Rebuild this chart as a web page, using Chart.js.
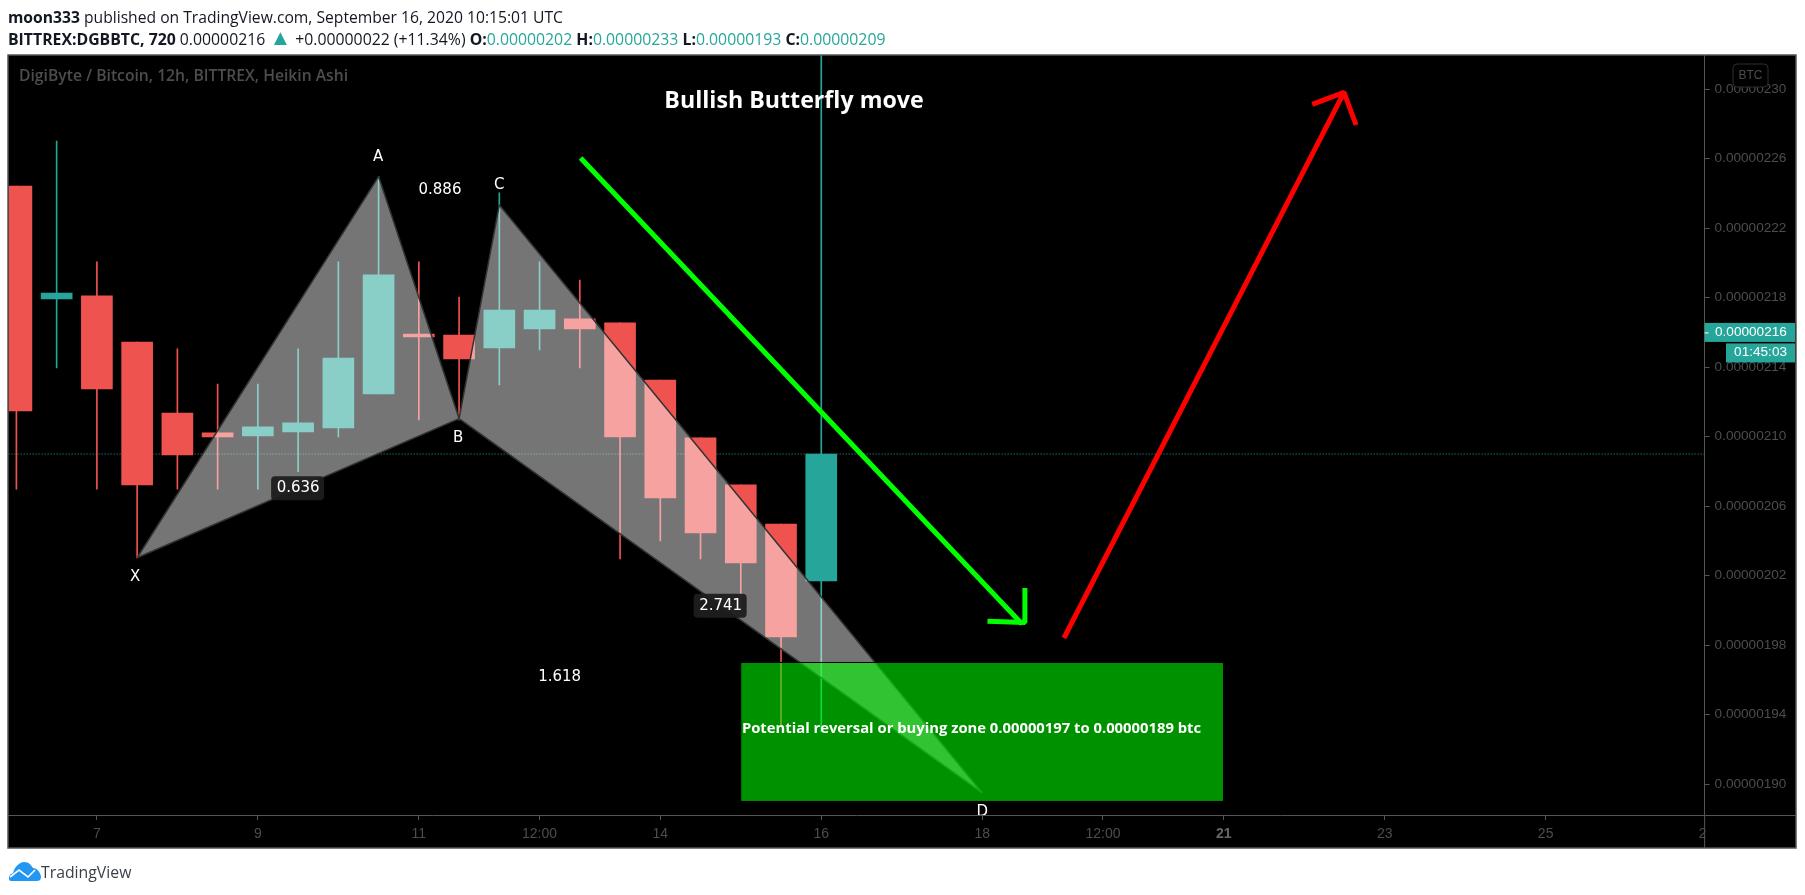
<!DOCTYPE html>
<html>
<head>
<meta charset="utf-8">
<script src="https://cdn.jsdelivr.net/npm/chart.js@4/dist/chart.umd.min.js"></script>
<style>
    html, body { margin: 0; padding: 0; background: #fff; }
    canvas { position: absolute; left: 0; top: 0; }
    .head { position: absolute; left: 8px; white-space: nowrap; color: #131722; font: 15.8px "Open Sans", sans-serif; }
    .head b { font-weight: 700; }
    .head i { font-style: normal; color: #26a69a; }
    .head i.up { font-size: 22px; line-height: 16px; }
    #logo { position: absolute; left: 8px; top: 862px; }
    #brand { position: absolute; left: 41px; top: 861px; color: #3b3f4a; font: 15.8px "Open Sans", sans-serif; }
</style>
</head>
<body>
<canvas id="chart" width="1805" height="895"></canvas>
<div class="head" style="top:6px;font-size:15.67px"><b>moon333</b> published on TradingView.com, September 16, 2020 10:15:01 UTC</div>
<div class="head" style="top:28px"><b>BITTREX:DGBBTC, 720</b> 0.00000216 <i class="up">▲</i> +0.00000022 (+11.34%) <b>O:</b><i>0.00000202</i> <b>H:</b><i>0.00000233</i> <b>L:</b><i>0.00000193</i> <b>C:</b><i>0.00000209</i></div>
<svg id="logo" width="33" height="20" viewBox="0 0 33 20">
    <path d="M3 19 C0 19 0 12 5 11 C7 4 12 0 16 0 C21 0 23 3 25 6 C29 6 33 11 33 15 C33 18 31 19 29 19 Z" fill="#2196f3"/>
    <path d="M2 15 L11 8 L20 15 L27 8" fill="none" stroke="#fff" stroke-width="1.6"/>
</svg>
<div id="brand">TradingView</div>

<script>
// prices are in satoshi (1e-8 BTC), x is the 12h bar number
const candleOpen = [224.43, 217.93, 218.1, 215.45, 211.36, 210.22, 210.04, 210.27, 210.5, 212.46, 215.91, 215.85, 215.11, 216.2, 216.78, 216.55, 213.26, 209.93, 207.22, 204.97, 201.69];
const candleClose = [211.48, 218.27, 212.75, 207.22, 208.95, 209.98, 210.56, 210.79, 214.53, 219.31, 215.74, 214.47, 217.29, 217.29, 216.2, 209.98, 206.47, 204.46, 202.73, 198.47, 209];
const candleHigh = [224.43, 227.02, 220.06, 215.45, 215.05, 213.03, 213.03, 215.05, 220.06, 224.95, 220.06, 218.04, 224.03, 220.06, 219.02, 216.55, 213.26, 209.93, 207.22, 204.97, 233];
const candleLow = [206.98, 213.96, 206.98, 203.02, 206.98, 206.98, 206.98, 207.98, 209.98, 212.46, 210.96, 210.96, 212.98, 214.99, 213.96, 202.96, 204, 202.96, 200.14, 193.41, 193];

const priceTicks = [230, 226, 222, 218, 214, 210, 206, 202, 198, 194, 190];
const timeTicks = [2, 6, 10, 13, 16, 20, 24, 27, 30, 34, 38, 42];
const timeLabels = ['7', '9', '11', '12:00', '14', '16', '18', '12:00', '21', '23', '25', '27'];

const lastClose = 209;
const lastPrice = 216;
const countdown = '01:45:03';

// harmonic pattern points
const pointX = { x: 3, y: 203.03 };
const pointA = { x: 9, y: 224.97 };
const pointB = { x: 11, y: 211.04 };
const pointC = { x: 12, y: 223.34 };
const pointD = { x: 24, y: 189.49 };

const zoneX = [18, 30];
const zoneY = [197, 189];

const greenShaft = [{ x: 14.02, y: 226.04 }, { x: 24.99, y: 199.22 }];
const greenHead = [{ x: 25.06, y: 201.29 }, { x: 25.06, y: 199.3 }, { x: 24.13, y: 199.37 }];
const redShaft = [{ x: 26.03, y: 198.41 }, { x: 32.99, y: 229.82 }];
const redHead = [{ x: 32.2, y: 229.13 }, { x: 32.99, y: 229.82 }, { x: 33.29, y: 227.94 }];

const RED = '#ef5350';
const TEAL = '#26a69a';
const AXIS = '#555555';
const DIM = '#4d4d4d';
const barNumbers = candleOpen.map((v, i) => i);
const barColors = candleOpen.map((v, i) => candleClose[i] > v ? TEAL : RED);

function lineSet(data, color, width, order) {
    return {
        type: 'line',
        data: data,
        borderColor: color,
        borderWidth: width,
        borderJoinStyle: 'bevel',
        pointRadius: 0,
        tension: 0,
        order: order
    };
}

function midpoint(p, q) {
    return { x: (p.x + q.x) / 2, y: (p.y + q.y) / 2 };
}

function text(c, str, x, y, font, color, align) {
    c.font = font;
    c.fillStyle = color;
    c.textAlign = align || 'center';
    c.textBaseline = 'middle';
    c.fillText(str, x, y);
}

function roundBox(c, x, y, w, h, r, fill, stroke) {
    c.beginPath();
    c.roundRect(x, y, w, h, r);
    c.fillStyle = fill;
    c.fill();
    if (stroke) {
        c.strokeStyle = stroke;
        c.stroke();
    }
}

const framePlugin = {
    id: 'frame',
    beforeDraw(chart) {
        const c = chart.ctx;
        c.fillStyle = '#000';
        c.fillRect(8, 55, 1788, 793);
    },
    afterDatasetsDraw(chart) {
        const c = chart.ctx;
        const sx = chart.scales.x;
        const sy = chart.scales.y;
        const area = chart.chartArea;
        const at = p => [sx.getPixelForValue(p.x), sy.getPixelForValue(p.y)];
        const sans = '"Open Sans", sans-serif';
        const note = '15px "DejaVu Sans", sans-serif';

        text(c, 'DigiByte / Bitcoin, 12h, BITTREX, Heikin Ashi', 19, 77, '600 15.7px ' + sans, DIM, 'left');
        text(c, 'Bullish Butterfly move', 794, 101, '700 23.2px ' + sans, '#fff');
        text(c, 'Potential reversal or buying zone 0.00000197 to 0.00000189 btc', 971.5, 729, '700 14.8px ' + sans, '#fff');

        // letters sit next to their pattern points
        let p = at(pointA);
        text(c, 'A', p[0] - 0.5, p[1] - 19, note, '#fff');
        p = at(pointB);
        text(c, 'B', p[0] - 1, p[1] + 20, note, '#fff');
        p = at(pointC);
        text(c, 'C', p[0], p[1] - 20, note, '#fff');
        p = at(pointX);
        text(c, 'X', p[0] - 2, p[1] + 19, note, '#fff');

        // D runs into the time axis and is cut off there
        p = at(pointD);
        c.save();
        c.beginPath();
        c.rect(area.left, area.top, area.right - area.left, area.bottom - area.top);
        c.clip();
        text(c, 'D', p[0], p[1] + 19, note, '#fff');
        c.restore();

        // ratios sit halfway along their legs
        p = at(midpoint(pointA, pointC));
        text(c, '0.886', p[0] + 1, p[1] - 1, note, '#fff');
        p = at(midpoint(pointX, pointD));
        text(c, '1.618', p[0], p[1] + 2, note, '#fff');
        p = at(midpoint(pointX, pointB));
        roundBox(c, p[0] - 27, p[1] - 12, 53, 24, 4, 'rgba(30,30,30,0.95)');
        text(c, '0.636', p[0], p[1], note, '#fff');
        p = at(midpoint(pointB, pointD));
        roundBox(c, p[0] - 27, p[1] - 12, 53, 24, 4, 'rgba(30,30,30,0.95)');
        text(c, '2.741', p[0], p[1], note, '#fff');
    },
    afterDraw(chart) {
        const c = chart.ctx;
        const sy = chart.scales.y;
        const axisX = chart.chartArea.right;
        const tick = '13.6px "Liberation Sans", sans-serif';

        // the price pane covers whatever of the last time label runs past it
        c.fillStyle = '#000';
        c.fillRect(axisX + 1, 816, 1796 - axisX - 1, 32);

        c.strokeStyle = AXIS;
        c.lineWidth = 1.5;
        c.strokeRect(8, 55, 1788, 793);
        c.lineWidth = 1;
        c.beginPath();
        c.moveTo(axisX, 815);
        c.lineTo(axisX, 848);
        c.moveTo(axisX, 815.5);
        c.lineTo(1796, 815.5);
        c.stroke();

        const y = sy.getPixelForValue(lastPrice);
        c.fillStyle = TEAL;
        c.fillRect(axisX, y - 9.5, 1795 - axisX, 19);
        c.fillRect(1726, y + 11, 69, 19);
        c.fillStyle = '#fff';
        c.fillRect(axisX, y, 4, 1);
        text(c, (lastPrice / 1e8).toFixed(8), 1715, y, tick, '#fff', 'left');
        text(c, countdown, 1787, y + 20, tick, '#fff', 'right');

        c.lineWidth = 1;
        roundBox(c, 1733, 64, 35, 23, 4, '#000', '#2a2e39');
        text(c, 'BTC', 1750.5, 75.5, '12px "Liberation Sans", sans-serif', DIM);
    }
};

const wicks = barNumbers.map(i => ({ x: i, y: [candleLow[i], candleHigh[i]] }));
const bodies = barNumbers.map(i => ({ x: i, y: [candleOpen[i], candleClose[i]] }));
const zone = [
    { x: zoneX[0], y: zoneY[0] },
    { x: zoneX[1], y: zoneY[0] },
    { x: zoneX[1], y: zoneY[1] },
    { x: zoneX[0], y: zoneY[1] },
    { x: zoneX[0], y: zoneY[0] }
];

const legXAB = lineSet([pointX, pointA, pointB, pointX], '#333333', 1.5, 4);
legXAB.fill = 'shape';
legXAB.backgroundColor = 'rgba(255,255,255,0.46)';
const legBCD = lineSet([pointB, pointC, pointD, pointB], '#333333', 1.5, 4);
legBCD.fill = 'shape';
legBCD.backgroundColor = 'rgba(255,255,255,0.46)';
const zoneSet = lineSet(zone, '#000000', 1, 3);
zoneSet.fill = 'shape';
zoneSet.backgroundColor = 'rgba(0,255,0,0.57)';
const closeLine = lineSet([{ x: -0.194, y: lastClose }, { x: 41.95, y: lastClose }], TEAL, 1.2, 7);
closeLine.borderDash = [1, 2];

new Chart(document.getElementById('chart'), {
    type: 'bar',
    data: {
        datasets: [
            closeLine,
            { data: wicks, backgroundColor: barColors, barThickness: 1, grouped: false, order: 6 },
            { data: bodies, backgroundColor: barColors, barThickness: 31, grouped: false, order: 5 },
            legXAB,
            legBCD,
            zoneSet,
            lineSet(greenShaft, '#00ff00', 5, 2),
            lineSet(greenHead, '#00ff00', 5, 2),
            lineSet(redShaft, '#ff0000', 5, 2),
            lineSet(redHead, '#ff0000', 5, 2)
        ]
    },
    plugins: [framePlugin],
    options: {
        responsive: false,
        animation: false,
        events: [],
        layout: { padding: { left: 8.6, top: 55, right: 9, bottom: 47 } },
        plugins: {
            legend: { display: false },
            tooltip: { enabled: false }
        },
        scales: {
            x: {
                type: 'linear',
                offset: false,
                min: -0.194,
                max: 41.95,
                afterBuildTicks(axis) {
                    axis.ticks = timeTicks.map(v => ({ value: v }));
                },
                afterFit(axis) {
                    axis.height = 33;
                },
                grid: { display: true, drawOnChartArea: false, tickLength: 5, tickColor: AXIS, offset: false },
                border: { color: AXIS },
                ticks: {
                    autoSkip: false,
                    maxRotation: 0,
                    padding: 6,
                    color: ctx => timeLabels[ctx.index] === '21' ? '#666666' : DIM,
                    font: ctx => ({
                        family: '"Liberation Sans", sans-serif',
                        size: 14,
                        weight: timeLabels[ctx.index] === '21' ? 'bold' : 'normal'
                    }),
                    callback: (value, index) => timeLabels[index]
                }
            },
            y: {
                position: 'right',
                min: 188.22,
                max: 231.97,
                afterBuildTicks(axis) {
                    axis.ticks = priceTicks.map(v => ({ value: v }));
                },
                afterFit(axis) {
                    axis.width = 91.4;
                },
                grid: { display: true, drawOnChartArea: false, tickLength: 5, tickColor: AXIS },
                border: { color: AXIS },
                ticks: {
                    color: DIM,
                    padding: 5,
                    font: { family: '"Liberation Sans", sans-serif', size: 13.6 },
                    callback: value => (value / 1e8).toFixed(8)
                }
            }
        }
    }
});
</script>
</body>
</html>
